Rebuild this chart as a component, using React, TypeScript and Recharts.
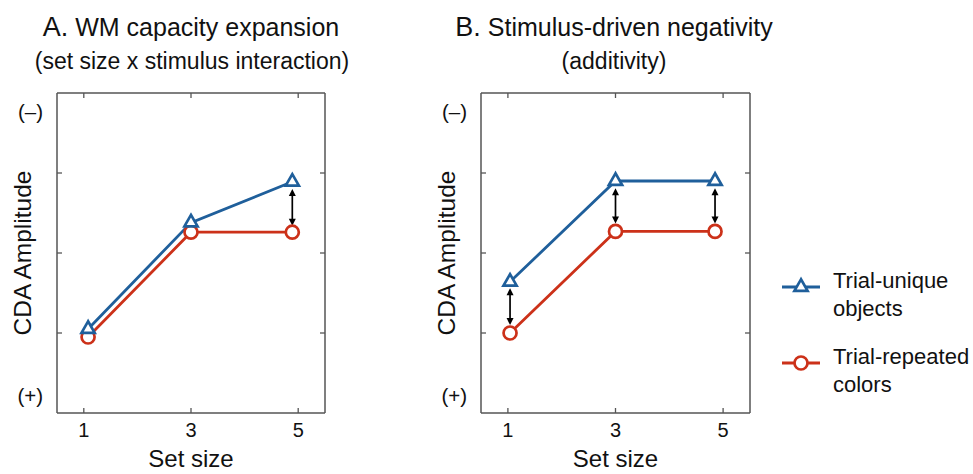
import React from "react";
import { LineChart, Line, XAxis, YAxis, ReferenceLine, Legend } from "recharts";

const FONT = "'Liberation Sans', Arial, Helvetica, sans-serif";
const BLUE = "#1f5f9b";
const RED = "#cc3119";
const BOX = "#555555";
const INK = "#111111";

// tick definitions
const xTicks = [1, 3, 5];
const yMarkTicks = [1, 2, 3];
const yLabelValues = [0.2, 3.75];
const yLabelTexts = ["(+)", "(\u2013)"];

// Panel A values
const setSizeA = [1.08, 3, 4.89];
const uniqueA = [1.05, 2.38, 2.89];
const repeatedA = [0.95, 2.26, 2.26];
const arrowXA = [4.89];
const arrowTopA = [2.8];
const arrowBottomA = [2.34];

// Panel B values
const setSizeB = [1.04, 3, 4.85];
const uniqueB = [1.64, 2.9, 2.9];
const repeatedB = [1.0, 2.27, 2.27];
const arrowXB = [1.04, 3, 4.85];
const arrowTopB = [1.56, 2.81, 2.81];
const arrowBottomB = [1.1, 2.37, 2.37];

const seriesNames = ["Trial-unique objects", "Trial-repeated colors"];
const legendLines = [
  ["Trial-unique", "objects"],
  ["Trial-repeated", "colors"],
];

const titleA = ["A.", " WM capacity expansion"];
const subtitleA = "(set size x stimulus interaction)";
const titleB = ["B.", " Stimulus-driven negativity"];
const subtitleB = "(additivity)";

const buildRows = (xs: number[], u: number[], r: number[]) =>
  xs.map((x, i) => ({ x, unique: u[i], repeated: r[i] }));

const rowsA = buildRows(setSizeA, uniqueA, repeatedA);
const rowsB = buildRows(setSizeB, uniqueB, repeatedB);

const TRI_H = 11.5;
const TRI_HALF = 6.6;
const CIRC_R = 6.5;

const trianglePoints = (cx: number, cy: number) =>
  `${cx},${cy - (TRI_H * 2) / 3} ${cx - TRI_HALF},${cy + TRI_H / 3} ${cx + TRI_HALF},${cy + TRI_H / 3}`;

const BottomTick = (props: any) => {
  const { x, y, payload } = props;
  return (
    <g>
      <line x1={x} x2={x} y1={y} y2={y - 5} stroke={BOX} strokeWidth={1.3} />
      <text x={x} y={y + 23.5} textAnchor="middle" fontSize={20} fontFamily={FONT} fill={INK}>
        {payload.value}
      </text>
    </g>
  );
};

const TopTick = (props: any) => {
  const { x, y } = props;
  return <line x1={x} x2={x} y1={y} y2={y + 5} stroke={BOX} strokeWidth={1.3} />;
};

const LeftTick = (props: any) => {
  const { x, y, payload } = props;
  const li = yLabelValues.indexOf(payload.value);
  if (li >= 0) {
    return (
      <text x={x - 14} y={y} dy="0.27em" textAnchor="end" fontSize={20.5} fontFamily={FONT} fill={INK}>
        {yLabelTexts[li]}
      </text>
    );
  }
  return <line x1={x} x2={x + 5} y1={y} y2={y} stroke={BOX} strokeWidth={1.3} />;
};

const RightTick = (props: any) => {
  const { x, y } = props;
  return <line x1={x} x2={x - 5} y1={y} y2={y} stroke={BOX} strokeWidth={1.3} />;
};

const YLabel = (props: any) => {
  const vb = props.viewBox || { x: 0, y: 93, width: 57, height: 320 };
  const cx = vb.x + vb.width - 35;
  const cy = vb.y + vb.height / 2;
  return (
    <text
      x={cx}
      y={cy}
      transform={`rotate(-90 ${cx} ${cy})`}
      textAnchor="middle"
      dominantBaseline="central"
      fontSize={24.5}
      fontFamily={FONT}
      fill={INK}
    >
      CDA Amplitude
    </text>
  );
};

const XLabel = (props: any) => {
  const vb = props.viewBox || { x: 57, y: 413, width: 268, height: 61 };
  return (
    <text x={vb.x + vb.width / 2} y={vb.y + 54} textAnchor="middle" fontSize={24} fontFamily={FONT} fill={INK}>
      Set size
    </text>
  );
};

const TriangleDot = (props: any) => {
  const { cx, cy, index } = props;
  if (cx == null || cy == null) return null;
  return <polygon key={`tri-${index}`} points={trianglePoints(cx, cy)} fill="#fff" stroke={BLUE} strokeWidth={2.7} />;
};

const CircleDot = (props: any) => {
  const { cx, cy, index } = props;
  if (cx == null || cy == null) return null;
  return <circle key={`cir-${index}`} cx={cx} cy={cy} r={CIRC_R} fill="#fff" stroke={RED} strokeWidth={2.7} />;
};

const ArrowShape = (props: any) => {
  const { x1, y1, y2 } = props;
  const x = x1;
  const top = Math.min(y1, y2);
  const bot = Math.max(y1, y2);
  const hl = 7;
  const hw = 3.5;
  return (
    <g>
      <line x1={x} x2={x} y1={top + hl - 1} y2={bot - hl + 1} stroke="#000" strokeWidth={1.7} />
      <polygon points={`${x},${top} ${x - hw},${top + hl} ${x + hw},${top + hl}`} fill="#000" />
      <polygon points={`${x},${bot} ${x - hw},${bot - hl} ${x + hw},${bot - hl}`} fill="#000" />
    </g>
  );
};

const LegendContent = (props: any) => {
  const payload: any[] = props.payload || [];
  const colorOf = (name: string, fallback: string) => {
    const e = payload.find((p) => p.value === name);
    return e && e.color ? e.color : fallback;
  };
  const rowsY = [27, 103];
  return (
    <svg width={220} height={150} style={{ overflow: "visible", display: "block" }}>
      {seriesNames.map((name, i) => {
        const col = colorOf(name, i === 0 ? BLUE : RED);
        const ly = rowsY[i];
        const cx = 27;
        return (
          <g key={name}>
            <line x1={8} x2={46} y1={ly} y2={ly} stroke={col} strokeWidth={2.8} />
            {i === 0 ? (
              <polygon points={trianglePoints(cx, ly)} fill="#fff" stroke={col} strokeWidth={2.7} />
            ) : (
              <circle cx={cx} cy={ly} r={CIRC_R} fill="#fff" stroke={col} strokeWidth={2.7} />
            )}
            {legendLines[i].map((t, j) => (
              <text key={t} x={59} y={ly + 0.5 + j * 28.3} fontSize={22} fontFamily={FONT} fill={INK}>
                {t}
              </text>
            ))}
          </g>
        );
      })}
    </svg>
  );
};

type PanelProps = {
  rows: any[];
  arrowX: number[];
  arrowTop: number[];
  arrowBottom: number[];
  width: number;
  marginRight: number;
  withLegend?: boolean;
};

const Panel = ({ rows, arrowX, arrowTop, arrowBottom, width, marginRight, withLegend }: PanelProps) => (
  <LineChart width={width} height={474} data={rows} margin={{ top: 92, right: marginRight - 1, bottom: 0, left: 0 }}>
    <XAxis
      xAxisId="b"
      dataKey="x"
      type="number"
      domain={[0.5, 5.5]}
      ticks={xTicks}
      interval={0}
      height={61}
      tickSize={0}
      tickMargin={0}
      tickLine={false}
      tick={<BottomTick />}
      axisLine={{ stroke: BOX, strokeWidth: 1.5 }}
      allowDataOverflow
      label={<XLabel />}
    />
    <XAxis
      xAxisId="t"
      orientation="top"
      dataKey="x"
      type="number"
      domain={[0.5, 5.5]}
      ticks={xTicks}
      interval={0}
      height={1}
      tickSize={0}
      tickMargin={0}
      tickLine={false}
      tick={<TopTick />}
      axisLine={{ stroke: BOX, strokeWidth: 1.5 }}
      allowDataOverflow
    />
    <YAxis
      yAxisId="l"
      type="number"
      domain={[0, 4]}
      ticks={[yLabelValues[0], ...yMarkTicks, yLabelValues[1]]}
      interval={0}
      width={57}
      tickSize={0}
      tickMargin={0}
      tickLine={false}
      tick={<LeftTick />}
      axisLine={{ stroke: BOX, strokeWidth: 1.5 }}
      allowDataOverflow
      label={<YLabel />}
    />
    <YAxis
      yAxisId="r"
      orientation="right"
      type="number"
      domain={[0, 4]}
      ticks={yMarkTicks}
      interval={0}
      width={1}
      tickSize={0}
      tickMargin={0}
      tickLine={false}
      tick={<RightTick />}
      axisLine={{ stroke: BOX, strokeWidth: 1.5 }}
      allowDataOverflow
    />
    {arrowX.map((x, i) => (
      <ReferenceLine
        key={`arrow-${i}`}
        xAxisId="b"
        yAxisId="l"
        segment={[
          { x, y: arrowTop[i] },
          { x, y: arrowBottom[i] },
        ]}
        ifOverflow="visible"
        shape={ArrowShape}
      />
    ))}
    <Line
      xAxisId="b"
      yAxisId="l"
      type="linear"
      dataKey="repeated"
      name={seriesNames[1]}
      stroke={RED}
      strokeWidth={2.8}
      dot={CircleDot}
      activeDot={false}
      isAnimationActive={false}
    />
    <Line
      xAxisId="b"
      yAxisId="l"
      type="linear"
      dataKey="unique"
      name={seriesNames[0]}
      stroke={BLUE}
      strokeWidth={2.8}
      dot={TriangleDot}
      activeDot={false}
      isAnimationActive={false}
    />
    {withLegend ? (
      <Legend
        content={<LegendContent />}
        wrapperStyle={{ position: "absolute", left: 350, top: 260, width: 0, height: 0, overflow: "visible" }}
      />
    ) : null}
  </LineChart>
);

export default function App() {
  return (
    <div style={{ position: "absolute", left: 0, top: 0, width: 973, height: 474, background: "#fff", overflow: "hidden" }}>
      <div style={{ position: "absolute", left: 0, top: 0 }}>
        <Panel rows={rowsA} arrowX={arrowXA} arrowTop={arrowTopA} arrowBottom={arrowBottomA} width={345} marginRight={20} />
      </div>
      <div style={{ position: "absolute", left: 424, top: 0 }}>
        <Panel
          rows={rowsB}
          arrowX={arrowXB}
          arrowTop={arrowTopB}
          arrowBottom={arrowBottomB}
          width={549}
          marginRight={223}
          withLegend
        />
      </div>
      <svg width={973} height={90} style={{ position: "absolute", left: 0, top: 0 }}>
        <text x={191} y={36} textAnchor="middle" fontFamily={FONT} fill={INK}>
          <tspan fontSize={27}>{titleA[0]}</tspan>
          <tspan fontSize={25}>{titleA[1]}</tspan>
        </text>
        <text x={192} y={69} textAnchor="middle" fontFamily={FONT} fontSize={23} fill={INK}>
          {subtitleA}
        </text>
        <text x={614} y={36} textAnchor="middle" fontFamily={FONT} fill={INK}>
          <tspan fontSize={27}>{titleB[0]}</tspan>
          <tspan fontSize={25}>{titleB[1]}</tspan>
        </text>
        <text x={614} y={69} textAnchor="middle" fontFamily={FONT} fontSize={23} fill={INK}>
          {subtitleB}
        </text>
      </svg>
    </div>
  );
}
